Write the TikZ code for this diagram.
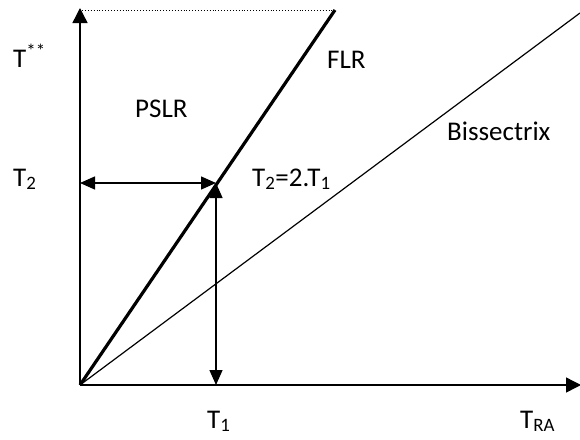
\documentclass[tikz,border=0pt]{standalone}
\usepackage{fontspec}
\setmainfont{Carlito}
\usetikzlibrary{arrows.meta}

\begin{document}
\begin{tikzpicture}[x=1pt,y=-1pt,font=\fontsize{27}{32}\selectfont,lbl/.style={inner sep=0pt,anchor=base west},axis/.style={line width=1.4pt,-{Triangle[length=15pt,width=15pt]}},guide/.style={line width=1.4pt,{Triangle[length=15pt,width=13pt]}-{Triangle[length=15pt,width=13pt]}}]
 \useasboundingbox (0,0) rectangle (580,439);
 \coordinate (o) at (80,385); \coordinate (ytop) at (80,8); \coordinate (xend) at (581,385);
 \coordinate (flr) at (335,10); \coordinate (bis) at (580,13); \coordinate (top) at (82,10);
 \coordinate (p) at (216,183); \coordinate (t2) at (80,183); \coordinate (t1) at (216,385);
 \draw[axis] (o)--(ytop); \draw[axis] (o)--(xend);
 \draw[line width=0.9pt,dotted] (top)--(flr);
 \draw[line width=3.2pt] (o)--(flr); \draw[line width=1.2pt] (o)--(bis);
 \draw[guide] (t2)--(p); \draw[guide] (p)--(t1);
 % labels
 \node[lbl] (tss) at (13,67) {T\textsuperscript{**}}; \node[lbl] (pslr) at (135,117) {PSLR};
 \node[lbl] (flrl) at (327,68) {FLR}; \node[lbl] (bisl) at (447,140) {Bissectrix};
 \node[lbl] (t2l) at (13,186) {T\textsubscript{2}}; \node[lbl] (rel) at (252,186) {T\textsubscript{2}=2.T\textsubscript{1}};
 \node[lbl] (t1l) at (207,428) {T\textsubscript{1}}; \node[lbl] (tra) at (520,428) {T\textsubscript{RA}};
\end{tikzpicture}
\end{document}
